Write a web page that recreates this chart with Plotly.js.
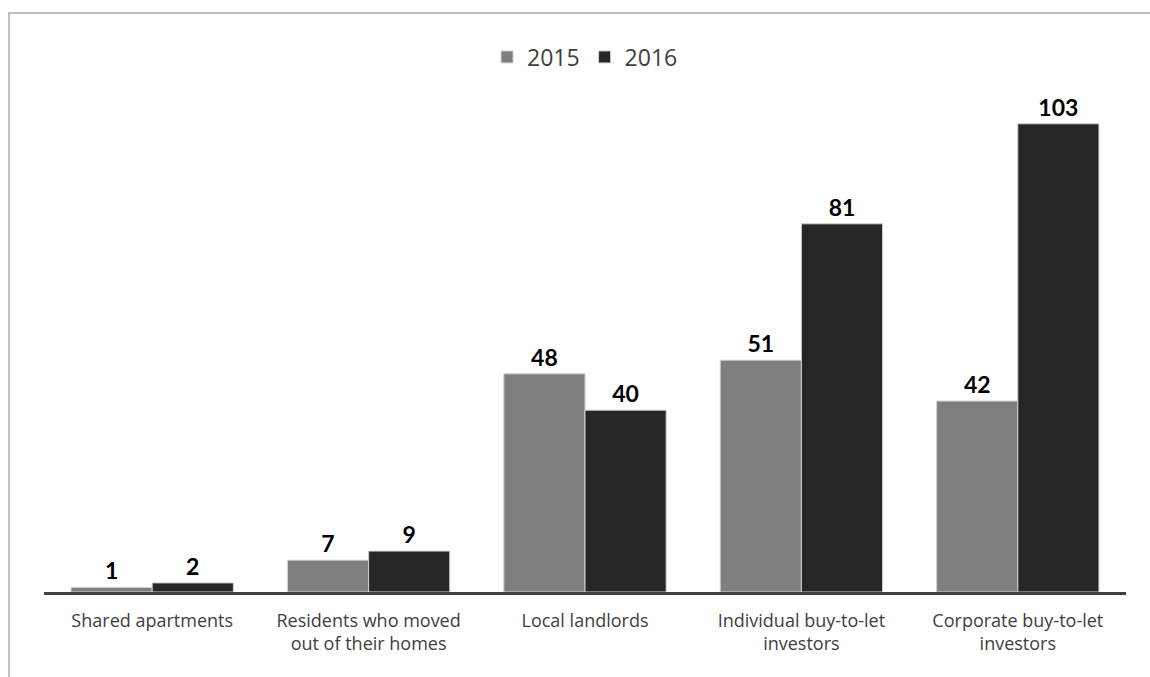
<!DOCTYPE html>
<html>
<head>
<meta charset="utf-8">
<script src="https://cdn.plot.ly/plotly-3.0.1.min.js"></script>
<style>
  html, body { margin: 0; padding: 0; background: #ffffff; overflow: hidden; }
  #frame { position: absolute; left: 8px; top: 12px; width: 1300px; height: 800px;
           border-top: 2px solid #bfbfbf; border-left: 2px solid #bfbfbf; }
  #chart { position: absolute; left: 0; top: 0; width: 1150px; height: 677px; }
</style>
</head>
<body>
<div id="frame"></div>
<div id="chart"></div>
<script>
const categories = [
  "Shared apartments",
  "Residents who moved<br>out of their homes",
  "Local landlords",
  "Individual buy-to-let<br>investors",
  "Corporate buy-to-let<br>investors"
];
const values2015 = [1, 7, 48, 51, 42];
const values2016 = [2, 9, 40, 81, 103];

const labelFont = { family: "Lato, 'Open Sans', sans-serif", size: 23, color: "#000000", weight: "bold" };

const traces = [
  {
    type: "bar", name: "2015", x: categories, y: values2015,
    marker: { color: "#7f7f7f", line: { color: "#d0d0d0", width: 1 } },
    text: values2015.map(String), textposition: "outside", textfont: labelFont,
    cliponaxis: false, hoverinfo: "skip"
  },
  {
    type: "bar", name: "2016", x: categories, y: values2016,
    marker: { color: "#262626", line: { color: "#d0d0d0", width: 1 } },
    text: values2016.map(String), textposition: "outside", textfont: labelFont,
    cliponaxis: false, hoverinfo: "skip"
  }
];

const layout = {
  width: 1150, height: 677,
  margin: { l: 44, r: 24, t: 92, b: 85 },
  paper_bgcolor: "rgba(0,0,0,0)",
  plot_bgcolor: "rgba(0,0,0,0)",
  barmode: "group",
  bargap: 0.25,
  bargroupgap: 0,
  showlegend: true,
  legend: {
    orientation: "h", x: 0.5, xanchor: "center", y: 1.07, yanchor: "middle",
    font: { family: "'Open Sans', sans-serif", size: 23, color: "#404040" },
    itemwidth: 30, traceorder: "normal"
  },
  xaxis: {
    showline: true, linecolor: "#404040", linewidth: 3,
    ticks: "", showgrid: false, zeroline: false,
    tickfont: { family: "'Open Sans', sans-serif", size: 18, color: "#404040" },
    ticklabelstandoff: 10
  },
  yaxis: {
    range: [0, 110], visible: false, showgrid: false, zeroline: false
  }
};

Plotly.newPlot("chart", traces, layout, { displayModeBar: false, staticPlot: true });
</script>
</body>
</html>
